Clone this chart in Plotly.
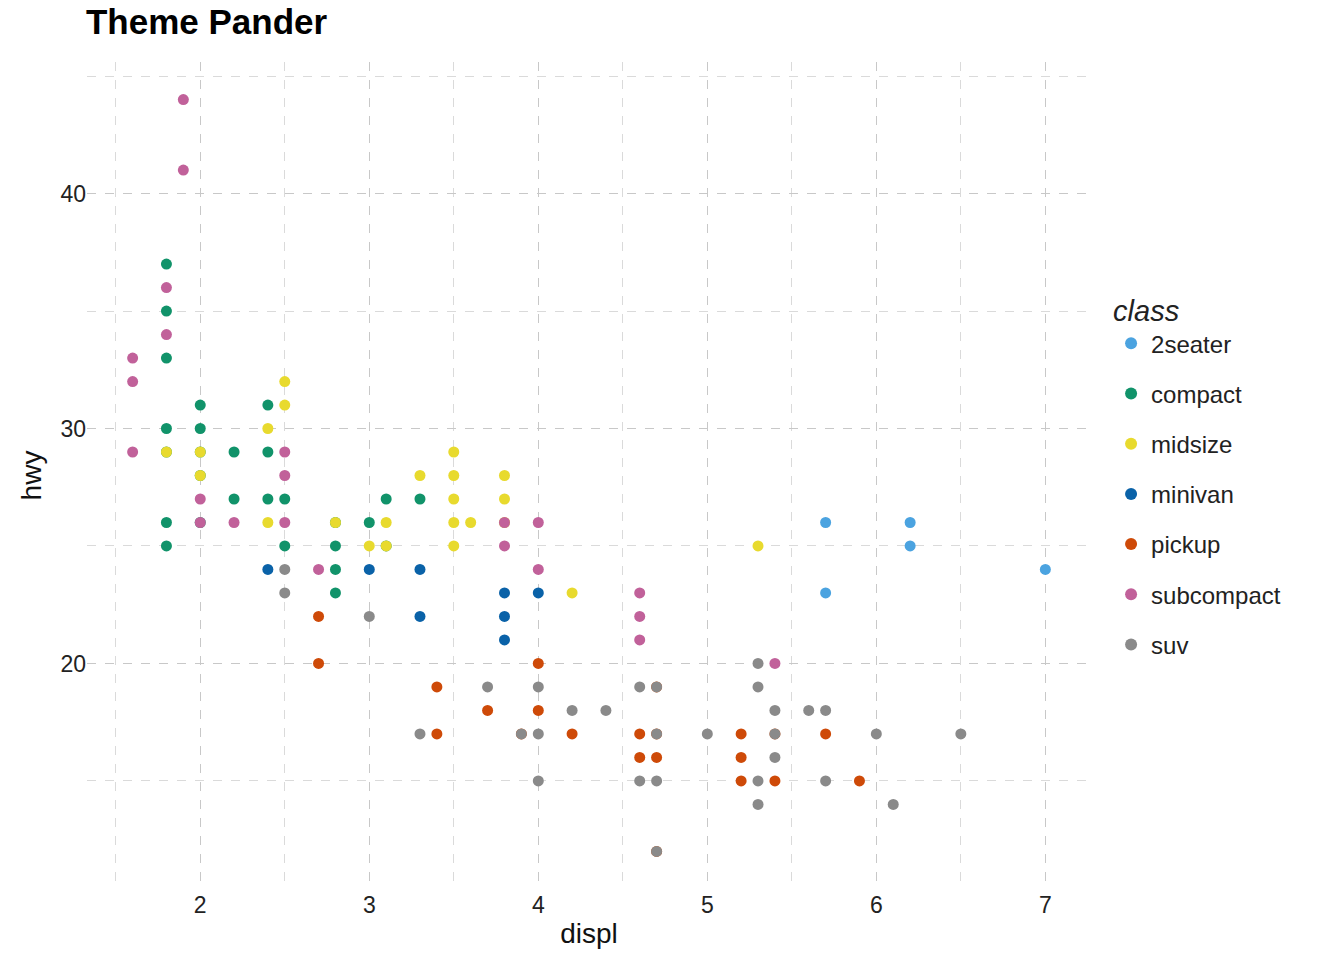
import plotly.graph_objects as go

classes = ["2seater","compact","midsize","minivan","pickup","subcompact","suv"]
colors = ["#4BA3E0","#11936A","#E8DA2E","#0A62A8","#CE4A08","#C1619A","#8A8A8A"]
data = {
"2seater": [(5.7,26),(5.7,23),(6.2,26),(6.2,25),(7.0,24)],
"compact": [(1.8,37),(1.8,35),(1.8,33),(1.8,30),(1.8,29),(1.8,26),(1.8,25),(2.0,31),(2.0,30),(2.0,29),(2.0,28),(2.0,26),(2.2,29),(2.2,27),(2.4,31),(2.4,29),(2.4,27),(2.5,27),(2.5,25),(2.8,26),(2.8,25),(2.8,24),(2.8,23),(3.0,26),(3.1,27),(3.1,25),(3.3,27)],
"midsize": [(1.8,29),(2.0,29),(2.0,28),(2.4,30),(2.4,26),(2.5,32),(2.5,31),(2.8,26),(3.0,25),(3.1,26),(3.1,25),(3.3,28),(3.5,29),(3.5,28),(3.5,27),(3.5,26),(3.5,25),(3.6,26),(3.8,28),(3.8,27),(3.8,26),(4.2,23),(5.3,25)],
"minivan": [(2.4,24),(3.0,24),(3.3,24),(3.3,22),(3.8,23),(3.8,22),(3.8,21),(4.0,23)],
"pickup": [(2.7,22),(2.7,20),(3.4,19),(3.4,17),(3.7,18),(3.9,17),(4.0,20),(4.0,18),(4.2,17),(4.6,17),(4.6,16),(4.7,19),(4.7,17),(4.7,16),(4.7,12),(5.2,17),(5.2,16),(5.2,15),(5.4,17),(5.4,15),(5.7,17),(5.9,15)],
"subcompact": [(1.6,33),(1.6,32),(1.6,29),(1.8,36),(1.8,34),(1.9,44),(1.9,41),(2.0,27),(2.0,26),(2.2,26),(2.5,29),(2.5,28),(2.5,26),(2.7,24),(3.8,25),(3.8,26),(4.0,26),(4.0,24),(4.6,23),(4.6,22),(4.6,21),(5.4,20)],
"suv": [(2.5,24),(2.5,23),(3.0,22),(3.3,17),(3.7,19),(3.9,17),(4.0,19),(4.0,17),(4.0,15),(4.2,18),(4.4,18),(4.6,19),(4.6,15),(4.7,19),(4.7,17),(4.7,15),(4.7,12),(5.0,17),(5.3,20),(5.3,19),(5.3,15),(5.3,14),(5.4,18),(5.4,17),(5.4,16),(5.6,18),(5.7,18),(5.7,15),(6.0,17),(6.1,14),(6.5,17)],
}

fig = go.Figure()
for c, col in zip(classes, colors):
    pts = data[c]
    fig.add_trace(go.Scatter(x=[p[0] for p in pts], y=[p[1] for p in pts], mode="markers",
                             name=c, legendgroup=c, marker=dict(color=col, size=11)))

grid = dict(showgrid=True, gridcolor="#C8C8C8", griddash="dash", gridwidth=1, zeroline=False,
            showline=False, ticks="", tickfont=dict(size=23, color="#222"))
fig.update_xaxes(**grid, range=[1.33, 7.27], dtick=1, tick0=2,
                 minor=dict(dtick=0.5, tick0=1.5, showgrid=True, gridcolor="#DADADA", griddash="dash"),
                 title=dict(text="displ", font=dict(size=28, color="#111"), standoff=6))
fig.update_yaxes(**grid, range=[10.4, 45.6], dtick=10, tick0=20,
                 minor=dict(dtick=5, tick0=15, showgrid=True, gridcolor="#DADADA", griddash="dash"),
                 title=dict(text="hwy", font=dict(size=28, color="#111"), standoff=10))
fig.update_layout(
    width=1344, height=960, plot_bgcolor="white", paper_bgcolor="white",
    font=dict(family="Liberation Sans, Arial, sans-serif"),
    margin=dict(l=79, r=261, t=54, b=79),
    title=dict(text="<b>Theme Pander</b>", x=0.058, xanchor="left", y=0.998, yanchor="top",
               font=dict(size=35, color="black")),
    legend=dict(title=dict(text="<i>class</i>  ", font=dict(size=29)), font=dict(size=24, color="#222"),
                x=1.02, y=0.5, yanchor="middle", itemsizing="constant", tracegroupgap=16),
)
fig.write_html("out.html")
